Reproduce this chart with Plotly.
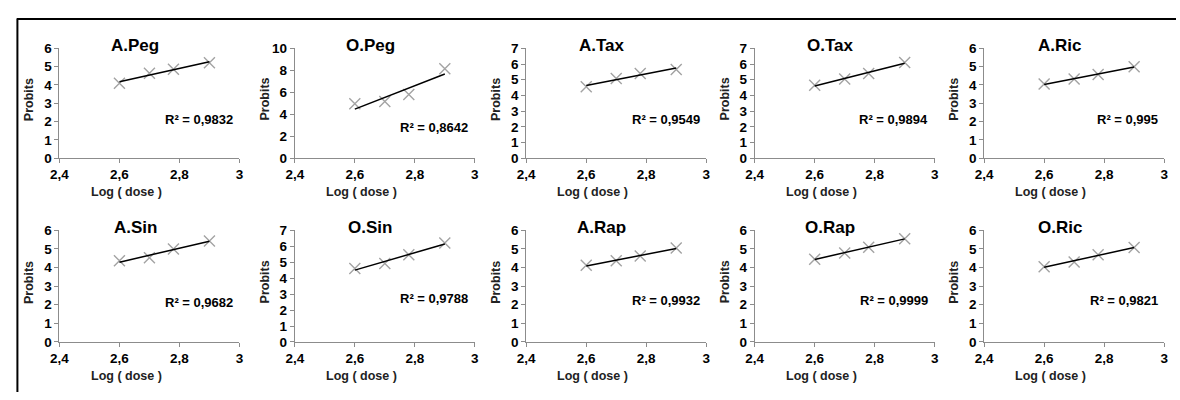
import numpy as np
import plotly.graph_objects as go

# Log(dose) levels shared by every assay
log_dose = [2.6, 2.7, 2.78, 2.9]

# Panel names in reading order (top row, then bottom row)
panels = ["A.Peg", "O.Peg", "A.Tax", "O.Tax", "A.Ric",
          "A.Sin", "O.Sin", "A.Rap", "O.Rap", "O.Ric"]

# Observed probits per panel
probits_a_peg = [4.10, 4.64, 4.86, 5.22]
probits_o_peg = [4.95, 5.15, 5.80, 8.15]
probits_a_tax = [4.55, 5.08, 5.40, 5.66]
probits_o_tax = [4.65, 5.05, 5.40, 6.10]
probits_a_ric = [4.05, 4.32, 4.57, 5.00]
probits_a_sin = [4.36, 4.53, 5.00, 5.43]
probits_o_sin = [4.60, 4.92, 5.46, 6.20]
probits_a_rap = [4.12, 4.36, 4.62, 5.05]
probits_o_rap = [4.45, 4.78, 5.09, 5.55]
probits_o_ric = [4.04, 4.30, 4.68, 5.08]

# Coefficients of determination printed on each panel
r2_labels = ["R² = 0,9832", "R² = 0,8642", "R² = 0,9549", "R² = 0,9894", "R² = 0,995",
             "R² = 0,9682", "R² = 0,9788", "R² = 0,9932", "R² = 0,9999", "R² = 0,9821"]

# Axis scales
y_max = [6, 10, 7, 7, 6, 6, 7, 6, 6, 6]
y_step = [1, 2, 1, 1, 1, 1, 1, 1, 1, 1]
x_tickvals = [2.4, 2.6, 2.8, 3.0]
x_ticktext = ["2,4", "2,6", "2,8", "3"]

series = [probits_a_peg, probits_o_peg, probits_a_tax, probits_o_tax, probits_a_ric,
          probits_a_sin, probits_o_sin, probits_a_rap, probits_o_rap, probits_o_ric]

W, H = 1180, 400
FONT = "Liberation Sans, Arial, sans-serif"

# Plot-area geometry in pixels
col_left = [51, 289, 523, 754, 986]
plot_w = 182
row_top = [43, 232]
row_bottom = [157, 348]

# R² label vertical position inside each plot area (fraction of height)
r2_y = [0.35, 0.28, 0.35, 0.35, 0.35, 0.35, 0.39, 0.37, 0.37, 0.37]


def px(x):
    return x / W


def py(y):
    return 1 - y / H


fig = go.Figure()
annotations = []
layout_axes = {}

for i, (name, ys) in enumerate(zip(panels, series)):
    r, c = divmod(i, 5)
    n = i + 1
    xa = "x" if n == 1 else f"x{n}"
    ya = "y" if n == 1 else f"y{n}"
    x0, x1 = px(col_left[c]), px(col_left[c] + plot_w)
    y0, y1 = py(row_bottom[r]), py(row_top[r])

    # observed points
    fig.add_trace(go.Scatter(
        x=log_dose, y=ys, mode="markers", xaxis=xa, yaxis=ya,
        marker=dict(symbol="x-thin", size=11,
                    line=dict(width=1.4, color="#a3a3a3"), color="#a3a3a3"),
        showlegend=False, hoverinfo="x+y"))

    # least-squares trend line
    slope, intercept = np.polyfit(log_dose, ys, 1)
    xs = [log_dose[0], log_dose[-1]]
    fig.add_trace(go.Scatter(
        x=xs, y=[slope * v + intercept for v in xs], mode="lines",
        xaxis=xa, yaxis=ya, line=dict(color="black", width=1.5),
        showlegend=False, hoverinfo="skip"))

    axis_common = dict(showline=True, linecolor="#8c8c8c", linewidth=1,
                       ticks="outside", ticklen=4, tickcolor="#8c8c8c",
                       showgrid=False, zeroline=False, fixedrange=True,
                       tickfont=dict(family=FONT, size=13.5, color="black", weight="bold"))
    xkey = "xaxis" if n == 1 else f"xaxis{n}"
    ykey = "yaxis" if n == 1 else f"yaxis{n}"
    layout_axes[xkey] = dict(axis_common, domain=[x0, x1], anchor=ya,
                             range=[2.4, 3.0], tickvals=x_tickvals, ticktext=x_ticktext)
    yticks = list(range(0, y_max[i] + 1, y_step[i]))
    layout_axes[ykey] = dict(axis_common, domain=[y0, y1], anchor=xa,
                             range=[0, y_max[i]], tickvals=yticks,
                             ticktext=[str(t) for t in yticks])

    # panel title
    annotations.append(dict(
        text=name, xref="paper", yref="paper",
        x=x0 + 0.42 * (x1 - x0), y=py(row_top[r] - 3),
        xanchor="center", yanchor="middle", showarrow=False,
        font=dict(family=FONT, size=17, color="black", weight="bold")))

    # R² label
    annotations.append(dict(
        text=r2_labels[i], xref="paper", yref="paper",
        x=x0 + 0.975 * (x1 - x0), y=y0 + r2_y[i] * (y1 - y0),
        xanchor="right", yanchor="middle", showarrow=False,
        font=dict(family=FONT, size=13, color="black", weight="bold")))

    # axis titles
    annotations.append(dict(
        text="Log ( dose )", xref="paper", yref="paper",
        x=x0 + 0.37 * (x1 - x0), y=py(row_bottom[r] + 35),
        xanchor="center", yanchor="middle", showarrow=False,
        font=dict(family=FONT, size=12.5, color="#222222", weight="bold")))
    annotations.append(dict(
        text="Probits", xref="paper", yref="paper",
        x=px(col_left[c] - 30), y=(y0 + y1) / 2 + 0.01,
        xanchor="center", yanchor="middle", textangle=-90, showarrow=False,
        font=dict(family=FONT, size=12.5, color="#222222", weight="bold")))

# frame lines along the top and left edges
shapes = [
    dict(type="line", xref="paper", yref="paper", x0=px(8), x1=1, y0=py(12.5), y1=py(12.5),
         line=dict(color="black", width=2)),
    dict(type="line", xref="paper", yref="paper", x0=px(8.5), x1=px(8.5), y0=py(12), y1=0,
         line=dict(color="black", width=2)),
]

fig.update_layout(
    width=W, height=H, margin=dict(l=0, r=0, t=0, b=0),
    paper_bgcolor="white", plot_bgcolor="white",
    annotations=annotations, shapes=shapes, showlegend=False,
    **layout_axes)

fig.write_html("out.html", config={"displayModeBar": False})
